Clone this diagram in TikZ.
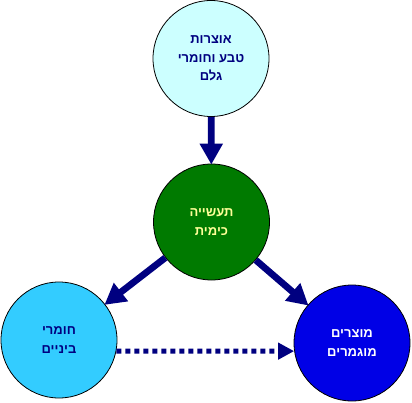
\documentclass[tikz,border=0pt]{standalone}
\usepackage{fontspec}
\newfontfamily\hebfont[Script=Hebrew]{Liberation Sans}
\TeXXeTstate=1
\usetikzlibrary{arrows.meta}
\definecolor{navy}{RGB}{0,0,128}
\definecolor{rawfill}{RGB}{204,255,255}
\definecolor{chemfill}{RGB}{0,122,0}
\definecolor{chemtext}{RGB}{255,255,153}
\definecolor{midfill}{RGB}{51,204,255}
\definecolor{prodfill}{RGB}{0,0,230}

\begin{document}
\begin{tikzpicture}[x=1pt,y=1pt,
    ball/.style={circle,draw=black,line width=0.8pt,minimum size=116pt,inner sep=0pt,
      align=center,font={\hebfont\bfseries\fontsize{13}{18.5}\selectfont}},
    flow/.style={navy,line width=6.7pt,-{Triangle[length=21pt,width=22pt]},shorten >=-1pt},
    later/.style={navy,line width=5pt,dash pattern=on 5pt off 4pt,
      -{Triangle[length=16pt,width=16pt]}}]
  \useasboundingbox (0,0) rectangle (412,402);
  \node[ball,fill=rawfill,text=navy] (raw) at (211,343.5)
    {\beginR אוצרות\endR\\\beginR טבע וחומרי\endR\\\beginR גלם\endR};
  \node[ball,fill=chemfill,text=chemtext] (chem) at (211.5,180)
    {\beginR תעשייה\endR\\\beginR כימית\endR};
  \node[ball,fill=midfill,text=navy] (mid) at (59,62)
    {\beginR חומרי\endR\\\beginR ביניים\endR};
  \node[ball,fill=prodfill,text=white] (prod) at (352,59)
    {\beginR מוצרים\endR\\\beginR מוגמרים\endR};
  \draw[flow] (raw) -- (chem);
  \draw[flow] (chem) -- (mid);
  \draw[flow] (chem) -- (prod);
  \draw[later] (mid.-11) -- (prod.188);
\end{tikzpicture}
\end{document}
